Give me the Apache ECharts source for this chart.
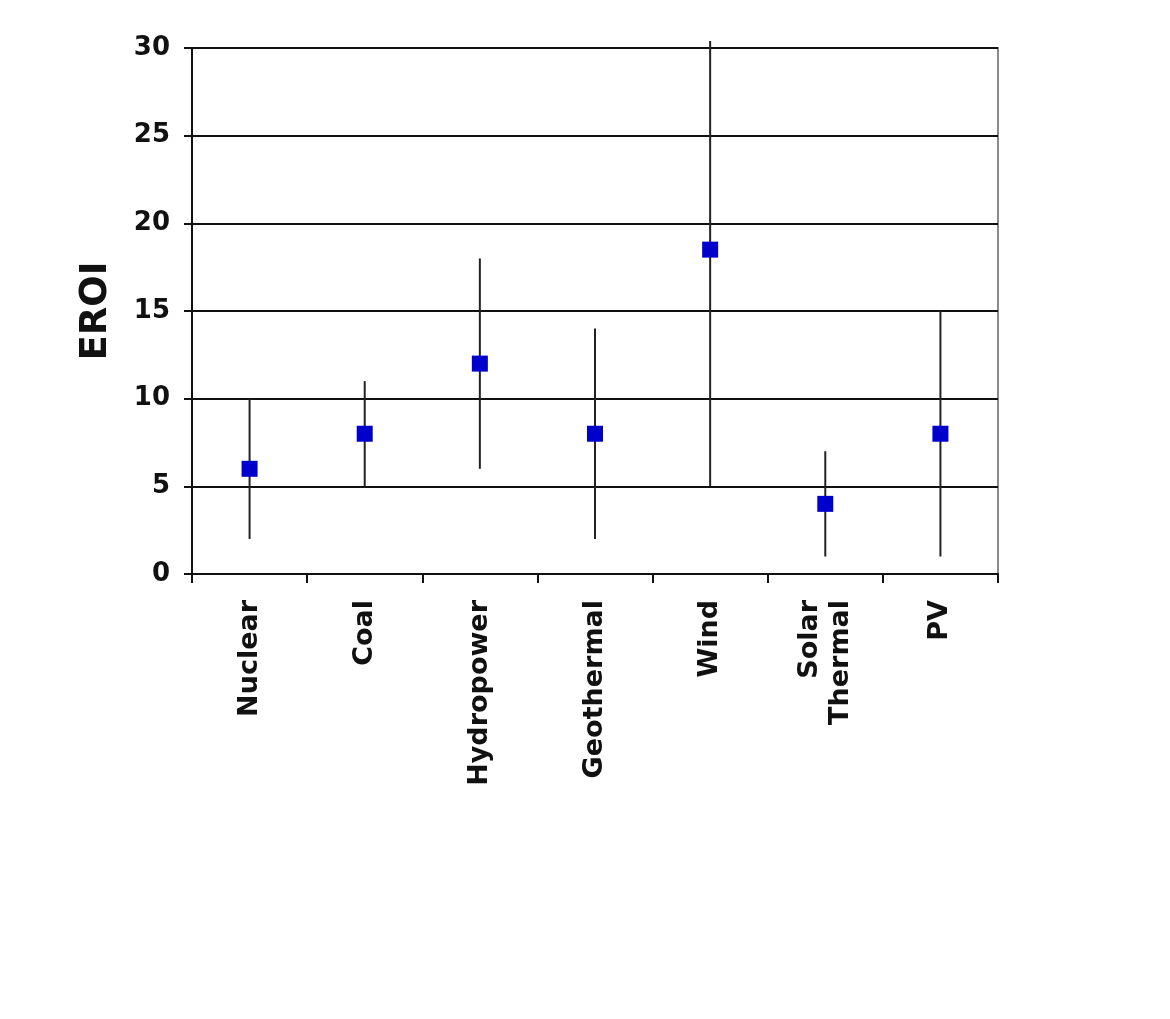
<!DOCTYPE html>
<html>
<head>
<meta charset="utf-8">
<script src="https://cdn.jsdelivr.net/npm/echarts@6/dist/echarts.min.js"></script>
<style>html,body{margin:0;padding:0;background:#fff;}#c{width:1170px;height:1019px;}</style>
</head>
<body>
<div id="c"></div>
<script>
const categories = ['Nuclear', 'Coal', 'Hydropower', 'Geothermal', 'Wind', 'Solar\nThermal', 'PV'];
const eroiValues = [6, 8, 12, 8, 18.5, 4, 8];
const lowValues = [2, 5, 6, 2, 5, 1, 1];
const highValues = [10, 11, 18, 14, 30.4, 7, 15];
const yTicks = [0, 5, 10, 15, 20, 25, 30];

const FONT = 'DejaVu Sans';
const chart = echarts.init(document.getElementById('c'));
chart.setOption({
  animation: false,
  backgroundColor: '#fff',
  grid: { left: 192, top: 48, width: 806, height: 526, show: true, borderColor: '#8a8a8a', borderWidth: 2, backgroundColor: 'transparent' },
  xAxis: {
    type: 'category',
    data: categories,
    boundaryGap: true,
    axisLine: { lineStyle: { color: '#111', width: 2 } },
    axisTick: { show: true, length: 9, interval: 0, alignWithLabel: false, lineStyle: { color: '#111', width: 2 } },
    axisLabel: { interval: 0, rotate: 90, margin: 26, color: '#111', fontFamily: FONT, fontWeight: 'bold', fontSize: 27, lineHeight: 31 },
    splitLine: { show: false }
  },
  yAxis: {
    type: 'value',
    min: yTicks[0], max: yTicks[yTicks.length - 1], interval: 5,
    name: 'EROI',
    nameLocation: 'middle',
    nameGap: 77,
    nameTextStyle: { color: '#111', fontFamily: FONT, fontWeight: 'bold', fontSize: 37 },
    axisLine: { show: true, lineStyle: { color: '#111', width: 2 } },
    axisTick: { show: true, length: 8, lineStyle: { color: '#111', width: 2 } },
    axisLabel: { margin: 22, color: '#111', fontFamily: FONT, fontWeight: 'bold', fontSize: 26 },
    splitLine: { show: true, lineStyle: { color: '#111', width: 2 } }
  },
  series: [
    {
      type: 'custom',
      clip: false,
      z: 2,
      data: categories.map((c, i) => [i, lowValues[i], highValues[i]]),
      renderItem: function (params, api) {
        const lo = api.coord([api.value(0), api.value(1)]);
        const hi = api.coord([api.value(0), api.value(2)]);
        return {
          type: 'line',
          shape: { x1: lo[0], y1: lo[1], x2: hi[0], y2: hi[1] },
          style: { stroke: '#222', lineWidth: 2 }
        };
      }
    },
    {
      type: 'scatter',
      z: 3,
      symbol: 'rect',
      symbolSize: 16,
      itemStyle: { color: '#0000cc', opacity: 1 },
      data: eroiValues
    }
  ]
});
</script>
</body>
</html>
